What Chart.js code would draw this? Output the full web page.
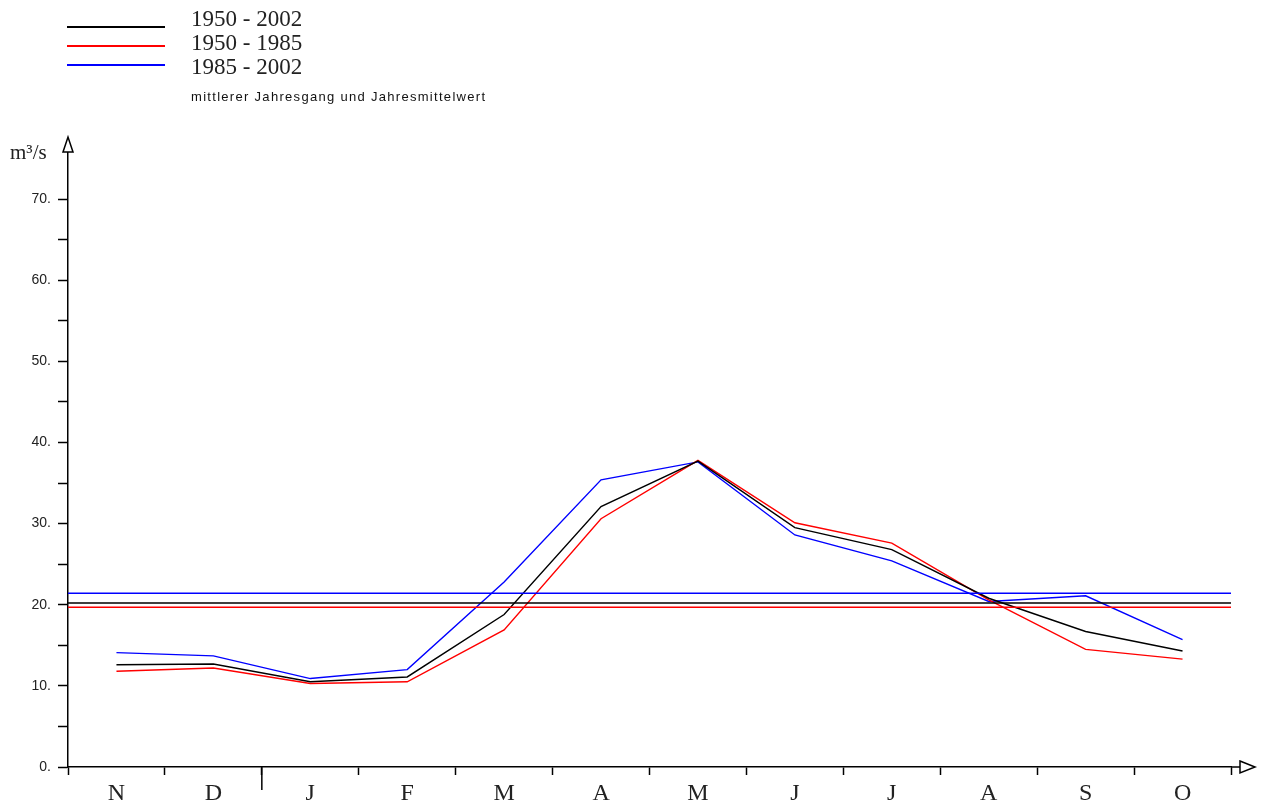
<!DOCTYPE html>
<html lang="de">
<head>
    <meta charset="UTF-8">
    <title>mittlerer Jahresgang und Jahresmittelwert</title>
    <script src="https://cdn.jsdelivr.net/npm/chart.js"></script>
    <style>
        body { margin: 0; background: #fff; }
        #wrap { position: relative; width: 1263px; height: 803px; }
        canvas { position: absolute; left: 0; top: 0; }
        .lg-line { position: absolute; left: 67px; width: 98px; height: 1.5px; }
        .lg-text { position: absolute; left: 191px; font: 23px "Liberation Serif", "Times New Roman", serif; line-height: 24px; color: #222; }
        .sub { position: absolute; left: 191px; top: 90px; font: 13px "Liberation Sans", Arial, sans-serif; letter-spacing: 1.3px; line-height: 14px; color: #111; }
        .unit { position: absolute; left: 10px; top: 140px; font: 21px "Liberation Serif", "Times New Roman", serif; line-height: 24px; color: #222; }
    </style>
</head>
<body>
<div id="wrap">
    <canvas id="chart" width="1263" height="803"></canvas>
    <div class="lg-line" style="top:26px;background:#000"></div>
    <div class="lg-line" style="top:45px;background:#f00"></div>
    <div class="lg-line" style="top:64px;background:#00f"></div>
    <div class="lg-text" style="top:7px">1950 - 2002</div>
    <div class="lg-text" style="top:31px">1950 - 1985</div>
    <div class="lg-text" style="top:55px">1985 - 2002</div>
    <div class="sub">mittlerer Jahresgang und Jahresmittelwert</div>
    <div class="unit">m³/s</div>
</div>

<script>
    // Abfluss, mittlerer Jahresgang (Abflussjahr Nov - Okt)
    const months = ['N', 'D', 'J', 'F', 'M', 'A', 'M', 'J', 'J', 'A', 'S', 'O'];
    const q1950_2002 = [12.6, 12.7, 10.5, 11.1, 18.8, 32.1, 37.7, 29.5, 26.8, 20.8, 16.7, 14.3];
    const q1950_1985 = [11.8, 12.2, 10.3, 10.5, 16.9, 30.6, 37.8, 30.1, 27.6, 20.6, 14.5, 13.3];
    const q1985_2002 = [14.1, 13.7, 10.9, 12.0, 22.8, 35.4, 37.6, 28.6, 25.4, 20.4, 21.1, 15.7];
    // Jahresmittelwerte
    const meanNames = ['1950 - 2002', '1950 - 1985', '1985 - 2002'];
    const meanValues = [20.2, 19.7, 21.4];
    const colors = ['#000000', '#ff0000', '#0000ff'];

    const series = [q1950_2002, q1950_1985, q1985_2002];

    const datasets = [];
    meanValues.forEach((m, i) => {
        datasets.push({
            label: 'Mittel ' + meanNames[i],
            data: [{ x: 0, y: m }, { x: months.length, y: m }],
            xAxisID: 'xm',
            borderColor: colors[i],
            borderWidth: 1.5,
            pointRadius: 0
        });
    });
    series.forEach((s, i) => {
        datasets.push({
            label: meanNames[i],
            data: s,
            borderColor: colors[i],
            borderWidth: 1.4,
            pointRadius: 0,
            tension: 0
        });
    });

    // Pfeile, verlaengerte x-Achse und Jahreswechsel-Strich
    const axisExtras = {
        id: 'axisExtras',
        afterDraw(chart) {
            const { ctx, chartArea: a, scales: { x } } = chart;
            ctx.save();
            ctx.strokeStyle = '#000';
            ctx.fillStyle = '#fff';
            ctx.lineWidth = 1.5;
            ctx.beginPath();
            ctx.moveTo(a.right, a.bottom);
            ctx.lineTo(a.right + 9, a.bottom);
            ctx.stroke();
            ctx.beginPath();
            ctx.moveTo(a.right + 9, a.bottom - 6);
            ctx.lineTo(a.right + 24, a.bottom);
            ctx.lineTo(a.right + 9, a.bottom + 6);
            ctx.closePath();
            ctx.fill();
            ctx.stroke();
            ctx.beginPath();
            ctx.moveTo(a.left - 5, a.top);
            ctx.lineTo(a.left, a.top - 15);
            ctx.lineTo(a.left + 5, a.top);
            ctx.closePath();
            ctx.fill();
            ctx.stroke();
            const xb = (x.getPixelForValue(1) + x.getPixelForValue(2)) / 2;
            ctx.beginPath();
            ctx.moveTo(xb, a.bottom);
            ctx.lineTo(xb, a.bottom + 23);
            ctx.stroke();
            ctx.restore();
        }
    };

    new Chart(document.getElementById('chart'), {
        type: 'line',
        data: { labels: months, datasets: datasets },
        plugins: [axisExtras],
        options: {
            responsive: false,
            animation: false,
            layout: { padding: { top: 152, right: 32, left: 0, bottom: 0 } },
            plugins: { legend: { display: false }, tooltip: { enabled: false } },
            scales: {
                x: {
                    type: 'category',
                    offset: true,
                    afterFit(s) { s.height = 36; },
                    grid: { drawOnChartArea: false, drawTicks: true, tickLength: 8, color: '#000', offset: true, tickWidth: 1.5 },
                    border: { color: '#000', width: 1.5 },
                    ticks: {
                        color: '#222',
                        padding: 4,
                        maxRotation: 0,
                        autoSkip: false,
                        font: { family: '"Liberation Serif", "Times New Roman", serif', size: 24 }
                    }
                },
                xm: {
                    type: 'linear',
                    display: false,
                    min: 0,
                    max: months.length
                },
                y: {
                    min: 0,
                    max: 75.8,
                    afterFit(s) { s.width = 68; },
                    afterBuildTicks(s) { s.ticks = s.ticks.filter(t => t.value % 5 === 0); },
                    grid: { drawOnChartArea: false, drawTicks: true, tickLength: 10, color: '#000', tickWidth: 1.5 },
                    border: { color: '#000', width: 1.5 },
                    ticks: {
                        stepSize: 5,
                        color: '#222',
                        padding: 7,
                        font: { family: '"Liberation Sans", Arial, sans-serif', size: 14 },
                        callback: v => (v % 10 === 0 ? v + '.' : '')
                    }
                }
            }
        }
    });
</script>
</body>
</html>
